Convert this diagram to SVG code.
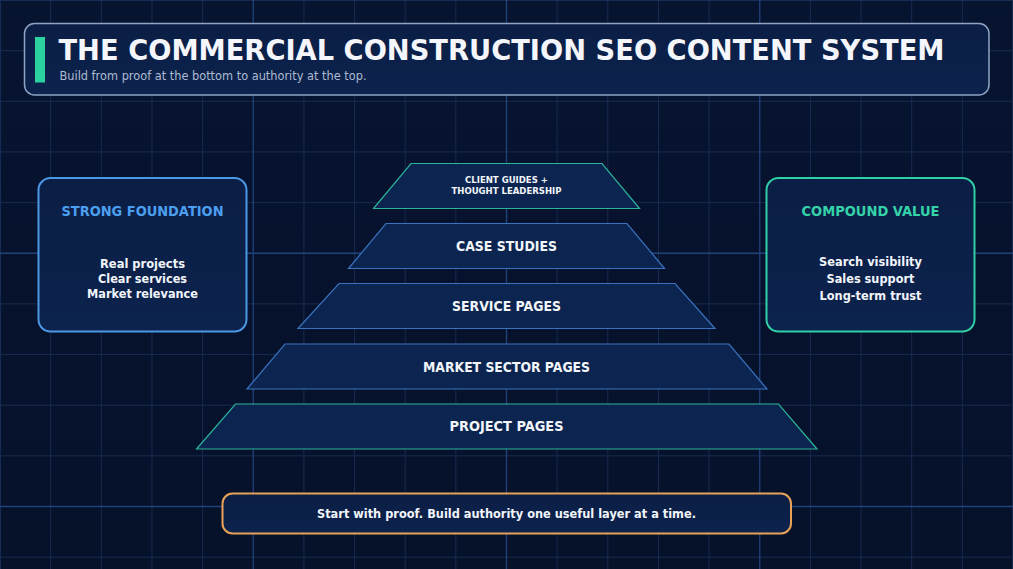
<svg xmlns="http://www.w3.org/2000/svg" width="1013" height="569" viewBox="0 0 1013 569">
  <defs>
    <linearGradient id="bg" x1="0" y1="0" x2="0" y2="1">
      <stop offset="0" stop-color="#071430"/>
      <stop offset="1" stop-color="#06112a"/>
    </linearGradient>
    <linearGradient id="panel" x1="0" y1="0" x2="0" y2="1">
      <stop offset="0" stop-color="#0b1e45"/>
      <stop offset="1" stop-color="#0c234d"/>
    </linearGradient>
  </defs>
  <style>
    .minor { stroke: #172c52; stroke-width: 1; fill: none; }
    .major { stroke: #22427a; stroke-width: 1.3; fill: none; }
    .layer { fill: #0c2550; stroke-width: 1.2; }
    .teal { stroke: #2bb39a; }
    .blue { stroke: #3a72bd; }
    .lbl { font-family: "DejaVu Sans", "Liberation Sans", sans-serif; font-weight: bold; fill: #f2f5fa; text-anchor: middle; }
    .card { fill: url(#panel); stroke-width: 2; }
  </style>

  <rect width="1013" height="569" fill="url(#bg)"/>

  <g id="grid">
    <path class="minor" d="M0.5 0V569M50.65 0V569M101.3 0V569M151.95 0V569M202.6 0V569M303.9 0V569M354.55 0V569M405.2 0V569M455.85 0V569M557.15 0V569M607.8 0V569M658.45 0V569M709.1 0V569M810.4 0V569M861.05 0V569M911.7 0V569M962.35 0V569M1012.5 0V569M0 0.5H1013M0 50.65H1013M0 101.3H1013M0 151.95H1013M0 202.6H1013M0 303.9H1013M0 354.55H1013M0 405.2H1013M0 455.85H1013M0 557.15H1013"/>
    <path class="major" d="M253.25 0V569M506.5 0V569M759.75 0V569M0 253.25H1013M0 506.5H1013"/>
  </g>

  <g id="header">
    <rect x="24.5" y="23.5" width="964.5" height="71.5" rx="10" fill="url(#panel)" stroke="#8fa4c4" stroke-width="1.5"/>
    <rect x="35" y="37" width="10" height="45.5" fill="#2bd19e"/>
    <text x="58.5" y="60" font-family="DejaVu Sans, Liberation Sans, sans-serif" font-weight="bold" font-size="28" fill="#f4f6fb" textLength="886" lengthAdjust="spacingAndGlyphs">THE COMMERCIAL CONSTRUCTION SEO CONTENT SYSTEM</text>
    <text x="59.5" y="80.3" font-family="DejaVu Sans, Liberation Sans, sans-serif" font-size="12.5" fill="#aebcd3" textLength="307" lengthAdjust="spacingAndGlyphs">Build from proof at the bottom to authority at the top.</text>
  </g>

  <g id="connectors"/>

  <g id="layer-guides">
    <polygon class="layer teal" points="411,163.5 602,163.5 639.5,208.5 373.5,208.5"/>
    <text class="lbl" x="506.5" y="183.2" font-size="9.3" textLength="83" lengthAdjust="spacingAndGlyphs">CLIENT GUIDES +</text>
    <text class="lbl" x="506.5" y="194.4" font-size="9.3" textLength="110" lengthAdjust="spacingAndGlyphs">THOUGHT LEADERSHIP</text>
  </g>

  <g id="layer-case">
    <polygon class="layer blue" points="386,223.5 627,223.5 664.5,268.5 348.5,268.5"/>
    <text class="lbl" x="506.5" y="251.3" font-size="13.6" textLength="101" lengthAdjust="spacingAndGlyphs">CASE STUDIES</text>
  </g>

  <g id="layer-service">
    <polygon class="layer blue" points="339,283.5 675,283.5 715,328.5 298,328.5"/>
    <text class="lbl" x="506.5" y="311.3" font-size="13.6" textLength="109" lengthAdjust="spacingAndGlyphs">SERVICE PAGES</text>
  </g>

  <g id="layer-market">
    <polygon class="layer blue" points="285,344 729,344 767,389 247,389"/>
    <text class="lbl" x="506.5" y="371.6" font-size="13.6" textLength="167" lengthAdjust="spacingAndGlyphs">MARKET SECTOR PAGES</text>
  </g>

  <g id="layer-project">
    <polygon class="layer teal" points="235.5,404 778.5,404 817,449 196.5,449"/>
    <text class="lbl" x="506.5" y="431" font-size="13.6" textLength="114" lengthAdjust="spacingAndGlyphs">PROJECT PAGES</text>
  </g>

  <g id="strong-foundation">
    <rect class="card" x="38.5" y="178" width="208" height="153.5" rx="12" stroke="#4b98e6"/>
    <text class="lbl" x="142.5" y="215.8" font-size="13.6" style="fill:#4b9ff0" textLength="162" lengthAdjust="spacingAndGlyphs">STRONG FOUNDATION</text>
    <text class="lbl" x="142.5" y="268" font-size="12.5" textLength="85" lengthAdjust="spacingAndGlyphs">Real projects</text>
    <text class="lbl" x="142.5" y="283" font-size="12.5" textLength="89" lengthAdjust="spacingAndGlyphs">Clear services</text>
    <text class="lbl" x="142.5" y="297.5" font-size="12.5" textLength="111" lengthAdjust="spacingAndGlyphs">Market relevance</text>
  </g>

  <g id="compound-value">
    <rect class="card" x="766.5" y="178" width="208" height="153.5" rx="12" stroke="#31cfa6"/>
    <text class="lbl" x="870.5" y="215.8" font-size="13.6" style="fill:#34d3a9" textLength="138" lengthAdjust="spacingAndGlyphs">COMPOUND VALUE</text>
    <text class="lbl" x="870.5" y="266.3" font-size="12.5" textLength="103" lengthAdjust="spacingAndGlyphs">Search visibility</text>
    <text class="lbl" x="870.5" y="283" font-size="12.5" textLength="88" lengthAdjust="spacingAndGlyphs">Sales support</text>
    <text class="lbl" x="870.5" y="299.7" font-size="12.5" textLength="102" lengthAdjust="spacingAndGlyphs">Long-term trust</text>
  </g>

  <g id="takeaway">
    <rect class="card" x="222.5" y="493.5" width="568.5" height="40" rx="10" stroke="#e8a258"/>
    <text class="lbl" x="506.5" y="517.8" font-size="12.5" textLength="379" lengthAdjust="spacingAndGlyphs">Start with proof. Build authority one useful layer at a time.</text>
  </g>
</svg>
